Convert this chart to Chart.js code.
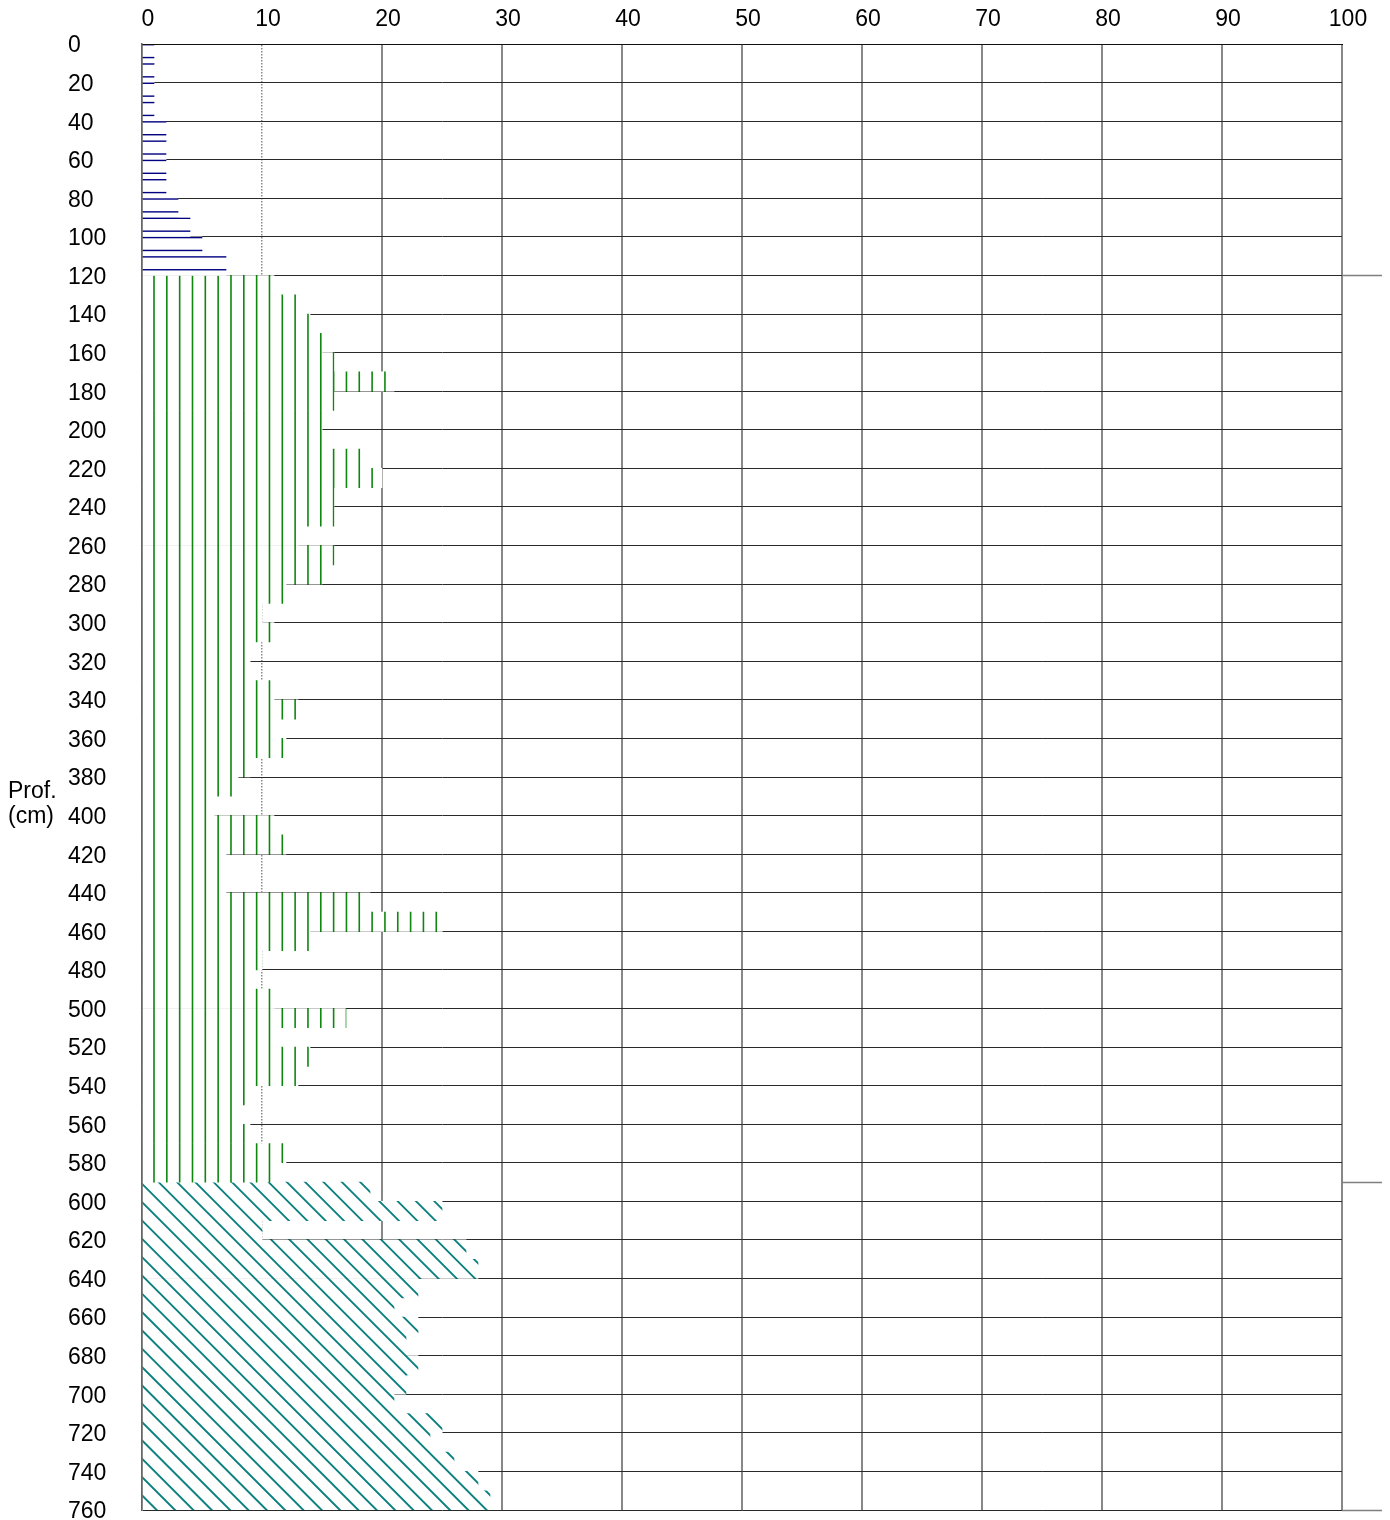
<!DOCTYPE html>
<html>
<head>
<meta charset="utf-8">
<script src="https://cdn.jsdelivr.net/npm/chart.js@4.4.1/dist/chart.umd.min.js"></script>
<style>
  html, body { margin: 0; padding: 0; background: #fff; }
  #c { display: block; }
</style>
</head>
<body>
<canvas id="c" width="1390" height="1520"></canvas>
<script>
// Top of each 10 cm slice and the value measured in it, per layer
const topLayerDepths = [0, 10, 20, 30, 40, 50, 60, 70, 80, 90, 100, 110];
const topLayerValues = [1, 1, 1, 1, 2, 2, 2, 2, 3, 4, 5, 7];

const midLayerDepths = [120, 130, 140, 150, 160, 170, 180, 190, 200, 210,
                        220, 230, 240, 250, 260, 270, 280, 290, 300, 310,
                        320, 330, 340, 350, 360, 370, 380, 390, 400, 410,
                        420, 430, 440, 450, 460, 470, 480, 490, 500, 510,
                        520, 530, 540, 550, 560, 570, 580];
const midLayerValues = [11, 13, 14, 15, 16, 21, 16, 15, 15, 19,
                        20, 16, 16, 13, 16, 15, 12, 10, 11, 9,
                        9, 11, 13, 11, 12, 9, 8, 6, 11, 12,
                        7, 7, 19, 25, 14, 10, 9, 11, 17, 11,
                        14, 13, 9, 8, 9, 12, 11];

const baseLayerDepths = [590, 600, 610, 620, 630, 640, 650, 660, 670, 680,
                         690, 700, 710, 720, 730, 740, 750];
const baseLayerValues = [19, 25, 10, 27, 28, 23, 21, 23, 22, 23,
                         22, 21, 25, 24, 26, 28, 29];

const sliceThickness = 10;
const valueAxis = { min: 0, max: 100, step: 10 };
const depthAxis = { min: 0, max: 760, step: 20 };
const layerBreaks = [120, 590, 760];
const depthTitle = ['Prof.', '(cm)'];

const FONT = '"Liberation Sans", Arial, Helvetica, sans-serif';
const FONT_SIZE = 23;

function slices(depths, values) {
  return depths.map((d, i) => ({ y: d + sliceThickness / 2, x: values[i] }));
}

// Fill patterns are built once the scales are laid out, so the rules line up with the slices
const fills = {};
function makeCanvas(w, h) {
  const c = document.createElement('canvas');
  c.width = Math.ceil(w); c.height = Math.ceil(h);
  return c;
}

const fillPlugin = {
  id: 'layerFills',
  afterLayout(chart) {
    const W = chart.width, H = chart.height;
    const ys = chart.scales.y, xs = chart.scales.x;
    const sliceH = Math.abs(ys.getPixelForValue(sliceThickness) - ys.getPixelForValue(0));

    // horizontal navy rules: one on each slice top, one two thirds down
    let c = makeCanvas(8, H), g = c.getContext('2d');
    g.fillStyle = '#fff'; g.fillRect(0, 0, c.width, c.height);
    g.fillStyle = '#000080';
    topLayerDepths.forEach(d => {
      const t = ys.getPixelForValue(d);
      g.fillRect(0, t, 8, 1.4);
      g.fillRect(0, t + sliceH * 2 / 3, 8, 1.4);
    });
    fills.top = g.createPattern(c, 'repeat');

    // vertical green rules
    c = makeCanvas(W, 4); g = c.getContext('2d');
    g.fillStyle = '#fff'; g.fillRect(0, 0, c.width, c.height);
    g.fillStyle = '#0f870f';
    const gap = 12.83;
    for (let x = xs.getPixelForValue(1); x < W; x += gap) {
      g.fillRect(x - 0.8, 0, 1.6, 4);
    }
    fills.mid = g.createPattern(c, 'repeat');

    // diagonal teal hatching
    c = makeCanvas(W, H); g = c.getContext('2d');
    g.fillStyle = '#fff'; g.fillRect(0, 0, c.width, c.height);
    g.strokeStyle = '#0d8080';
    g.lineWidth = 1.9;
    const y0 = ys.getPixelForValue(baseLayerDepths[0]);
    const x0 = xs.getPixelForValue(0);
    const step = 18.33;
    const c0 = (x0 - 0.3) - (y0 + 1.4);
    const yA = y0 - 30, yB = H;
    g.beginPath();
    for (let k = -120; k <= 120; k++) {
      const cc = c0 + k * step;
      g.moveTo(cc + yA, yA);
      g.lineTo(cc + yB, yB);
    }
    g.stroke();
    fills.base = g.createPattern(c, 'repeat');
  }
};

// Layer boundaries run a little past the right edge of the grid; axis caption on the left
const decorPlugin = {
  id: 'decor',
  afterDraw(chart) {
    const ctx = chart.ctx, ys = chart.scales.y, area = chart.chartArea;
    ctx.save();
    ctx.strokeStyle = '#7f7f7f';
    ctx.lineWidth = 1.5;
    layerBreaks.forEach(d => {
      const y = Math.round(ys.getPixelForValue(d) - 0.5) + 0.5;
      ctx.beginPath();
      ctx.moveTo(area.right, y);
      ctx.lineTo(area.right + 40, y);
      ctx.stroke();
    });
    ctx.fillStyle = '#000';
    ctx.font = FONT_SIZE + 'px ' + FONT;
    ctx.textAlign = 'left';
    ctx.textBaseline = 'alphabetic';
    ctx.fillText(depthTitle[0], 8, 798);
    ctx.fillText(depthTitle[1], 8, 823);
    ctx.restore();
  }
};

Chart.defaults.font.family = FONT;
Chart.defaults.font.size = FONT_SIZE;
Chart.defaults.color = '#000';

const barCommon = {
  borderWidth: 0,
  barPercentage: 1,
  categoryPercentage: 1,
  grouped: false
};

new Chart(document.getElementById('c'), {
  type: 'bar',
  data: {
    datasets: [
      Object.assign({ label: 'A', data: slices(topLayerDepths, topLayerValues), backgroundColor: () => fills.top }, barCommon),
      Object.assign({ label: 'B', data: slices(midLayerDepths, midLayerValues), backgroundColor: () => fills.mid }, barCommon),
      Object.assign({ label: 'C', data: slices(baseLayerDepths, baseLayerValues), backgroundColor: () => fills.base }, barCommon)
    ]
  },
  options: {
    indexAxis: 'y',
    responsive: false,
    animation: false,
    devicePixelRatio: 1,
    layout: { autoPadding: false, padding: { left: 68, right: 48, top: 0, bottom: 10 } },
    plugins: { legend: { display: false }, tooltip: { enabled: false } },
    scales: {
      x: {
        type: 'linear',
        position: 'top',
        min: valueAxis.min,
        max: valueAxis.max,
        offset: false,
        ticks: { stepSize: valueAxis.step, padding: 11, labelOffset: 6, maxRotation: 0 },
        grid: {
          offset: false,
          drawTicks: false,
          color: (ctx) => (ctx.tick && ctx.tick.value === 10) ? '#8a8a8a' : '#888888',
          lineWidth: (ctx) => (ctx.tick && ctx.tick.value === 10) ? 1.5 : 2
        },
        border: {
          display: true, color: '#111', width: 1, z: 1,
          dash: (ctx) => (ctx.tick && ctx.tick.value === 10) ? [1.5, 1.5] : []
        },
        afterFit(scale) { scale.height = 44; scale.paddingLeft = 0; scale.paddingRight = 0; }
      },
      y: {
        type: 'linear',
        reverse: true,
        min: depthAxis.min,
        max: depthAxis.max,
        offset: false,
        ticks: { stepSize: depthAxis.step, crossAlign: 'far', labelOffset: 2 },
        grid: { offset: false, drawTicks: false, color: '#2a2a2a', lineWidth: 1 },
        border: { display: true, color: '#666', width: 1.5, z: 1 },
        afterFit(scale) { scale.width = 74; scale.paddingTop = 0; scale.paddingBottom = 0; }
      }
    }
  },
  plugins: [fillPlugin, decorPlugin]
});
</script>
</body>
</html>
